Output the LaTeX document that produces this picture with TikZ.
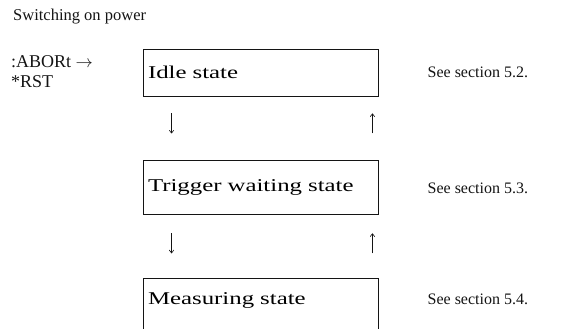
\documentclass[tikz,border=0pt]{standalone}
\usepackage{fontspec}
\setmainfont{Liberation Serif}
\newfontfamily\boxfont[FakeStretch=1.38]{Liberation Serif}
\usetikzlibrary{arrows.meta,positioning}
\definecolor{scanink}{RGB}{20,20,20}

\begin{document}
\begin{tikzpicture}[
  x=1pt, y=-1pt,
  font=\fontsize{16}{19}\selectfont,
  node distance=64pt and 49pt,
  statebox/.style={draw=scanink, line width=0.9pt, minimum width=235pt, minimum height=47pt,
                   text width=225pt, align=left, inner xsep=5pt, font=\boxfont\fontsize{18}{21}\selectfont},
  note/.style={inner sep=0pt, text=scanink},
  cmd/.style={note, anchor=base west, font=\fontsize{18}{21}\selectfont},
  flow/.style={-{To[length=3.5pt,width=5pt]}, line width=0.6pt, scanink}
]
\useasboundingbox (0,0) rectangle (584,329);
% ---- header and reset commands ----
\node[note, anchor=base west, font=\fontsize{16.5}{19}\selectfont] (power) at (13,21) {Switching on power};
\node[cmd] (abort) at (11,68) {:ABORt $\rightarrow$};
\node[cmd] (rst) at (11,88) {*RST};
% ---- state boxes, top to bottom ----
\node[statebox] (idle) at (260.5,72.5) {Idle state};
\node[statebox, below=of idle, minimum height=54pt] (trig) {Trigger waiting state};
\node[statebox, below=63pt of trig, minimum height=64pt, text depth=25pt] (meas) {Measuring state};
% ---- section references ----
\node[note, right=of idle] (sec2) {See section 5.2.};
\node[note, right=of trig] (sec3) {See section 5.3.};
\node[note, right=49pt of meas.north east, yshift=-21pt] (sec4) {See section 5.4.};
% ---- transitions ----
\draw[flow] ([xshift=29pt,yshift=-17pt]idle.south west) -- ([xshift=29pt,yshift=27pt]trig.north west);
\draw[flow] ([xshift=-6pt,yshift=27pt]trig.north east) -- ([xshift=-6pt,yshift=-17pt]idle.south east);
\draw[flow] ([xshift=29pt,yshift=-18pt]trig.south west) -- ([xshift=29pt,yshift=25pt]meas.north west);
\draw[flow] ([xshift=-6pt,yshift=25pt]meas.north east) -- ([xshift=-6pt,yshift=-18pt]trig.south east);
\end{tikzpicture}
\end{document}
